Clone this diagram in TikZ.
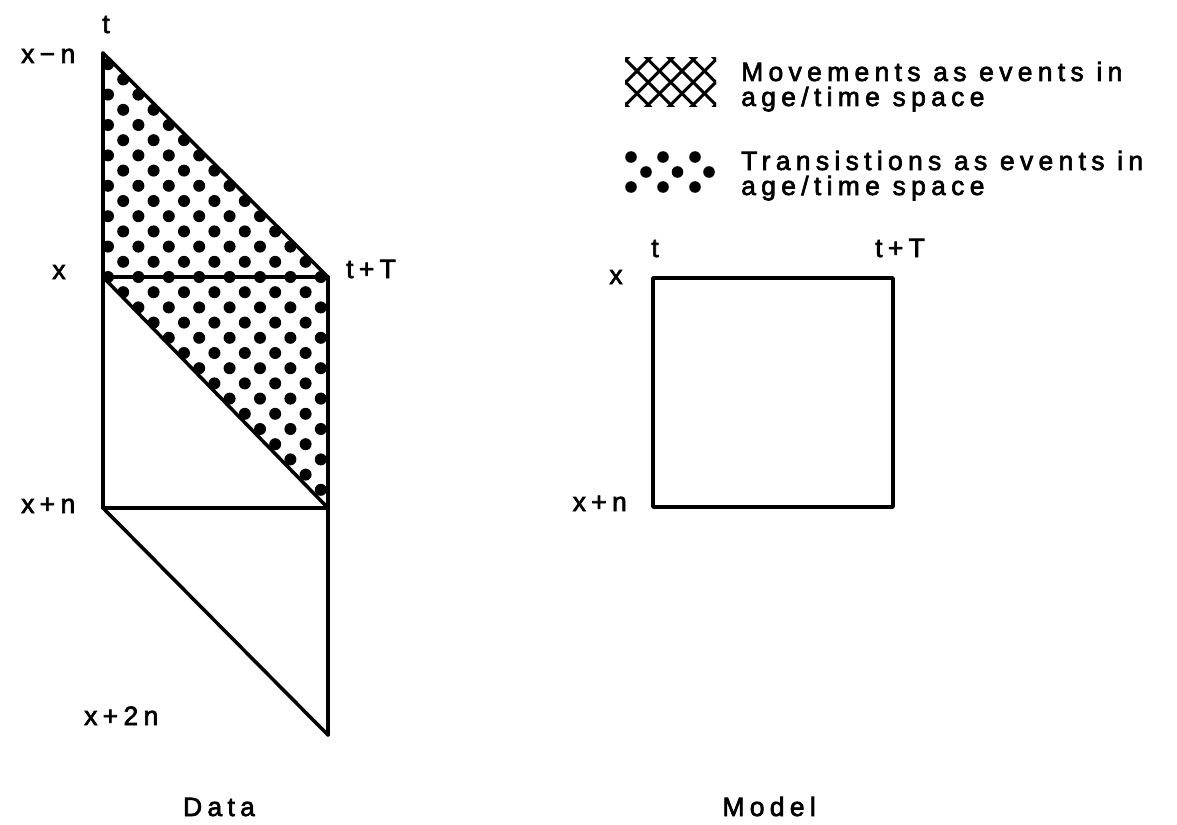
\documentclass[tikz,border=0pt]{standalone}
\usepackage{fontspec}
\setmainfont[LetterSpace=20,FakeBold=2.5]{Liberation Sans}
\begin{document}
\begin{tikzpicture}[x=1pt,y=-1pt,
  edge/.style={line width=3.5pt, line cap=round, line join=round},
  hatch/.style={line width=3pt},
  dotmark/.style={fill=black},
  lab/.style={inner sep=0pt, font=\fontsize{26.5}{26.5}\selectfont}]
\useasboundingbox (0,0) rectangle (1177,824);
\fill[white] (0,0) rectangle (1177,824);

% ---------- Data diagram ----------
\coordinate (A) at (103,53);
\coordinate (B) at (103,277);
\coordinate (C) at (328,277);
\coordinate (D) at (103,508);
\coordinate (E) at (328,508);
\coordinate (F) at (328,735);

\begin{scope}
  \clip (A) -- (C) -- (E) -- (B) -- cycle;
  \foreach \j in {-15,...,16}{
    \pgfmathtruncatemacro{\st}{mod(\j+16,2)}
    \foreach \i in {0,...,8}{
      \fill[dotmark] (108+15.2*\st+30.4*\i, 277+15.2*\j) circle[radius=6pt];
    }
  }
\end{scope}

\draw[edge] (A) -- (D);
\draw[edge] (A) -- (C);
\draw[edge] (B) -- (C);
\draw[edge] (B) -- (E);
\draw[edge] (C) -- (F);
\draw[edge] (D) -- (E);
\draw[edge] (D) -- (F);

\node[lab, anchor=base] (dt) at (106,33) {t};
\node[lab, anchor=base west] (dxmn) at (21,63) {x−n};
\node[lab, anchor=base] (dx) at (59,279) {x};
\node[lab, anchor=base west] (dtT) at (346,278) {t+T};
\node[lab, anchor=base west] (dxpn) at (21,513) {x+n};
\node[lab, anchor=base west] (dx2n) at (84,725) {x+2n};
\node[lab, anchor=base] (data) at (219,816) {Data};

% ---------- Model diagram ----------
\coordinate (M1) at (653,278);
\coordinate (M2) at (893,507);
\draw[edge] (M1) rectangle (M2);
\node[lab, anchor=base] (mt) at (655,257) {t};
\node[lab, anchor=base west] (mtT) at (875,257) {t+T};
\node[lab, anchor=base] (mx) at (616,284) {x};
\node[lab, anchor=base east] (mxpn) at (627,511) {x+n};
\node[lab, anchor=base east] (model) at (816,816) {Model};

% ---------- Legend ----------
\begin{scope}
  \clip (625,58) rectangle (716,107);
  \foreach \m in {-5,...,6}{
    \draw[hatch] (566+22.5*\m,0) -- ++(200,200);
    \draw[hatch] (708+22.5*\m,0) -- ++(-200,200);
  }
\end{scope}
\node[lab, anchor=base west] (lm1) at (741,81) {Movements as events in};
\node[lab, anchor=base west] (lm2) at (741,106) {age/time space};

\foreach \x/\y in {631/157,663/157,695/157,646/172,677.5/172,709/172,631/187,663/187,695/187}{
  \fill[dotmark] (\x,\y) circle[radius=5.8pt];
}
\node[lab, anchor=base west] (lt1) at (741,170) {Transistions as events in};
\node[lab, anchor=base west] (lt2) at (741,195) {age/time space};
\end{tikzpicture}
\end{document}
